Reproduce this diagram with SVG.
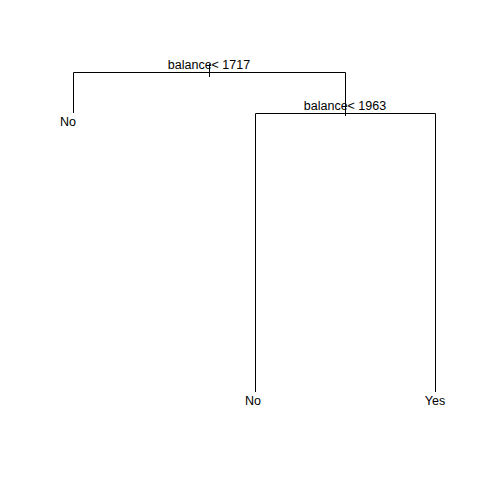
<svg xmlns="http://www.w3.org/2000/svg" width="480" height="480" viewBox="0 0 480 480">
<style>
.e{stroke:#000;stroke-width:1;fill:none}
text{font-family:"Liberation Sans",Arial,sans-serif;font-size:12.5px;fill:#000;text-anchor:middle}
</style>
<rect width="480" height="480" fill="#fff"/>
<g id="connectors">
<path class="e" d="M209.5 64V77M73.5 113V72.5H345.5V116M255.5 392V113.5H435.5V392"/>
</g>
<g id="root"><text x="209" y="69">balance&lt; 1717</text></g>
<g id="split2"><text x="345" y="110">balance&lt; 1963</text></g>
<g id="leaf1"><text x="68" y="126">No</text></g>
<g id="leaf2"><text x="253" y="405">No</text></g>
<g id="leaf3"><text x="435" y="405">Yes</text></g>
</svg>
